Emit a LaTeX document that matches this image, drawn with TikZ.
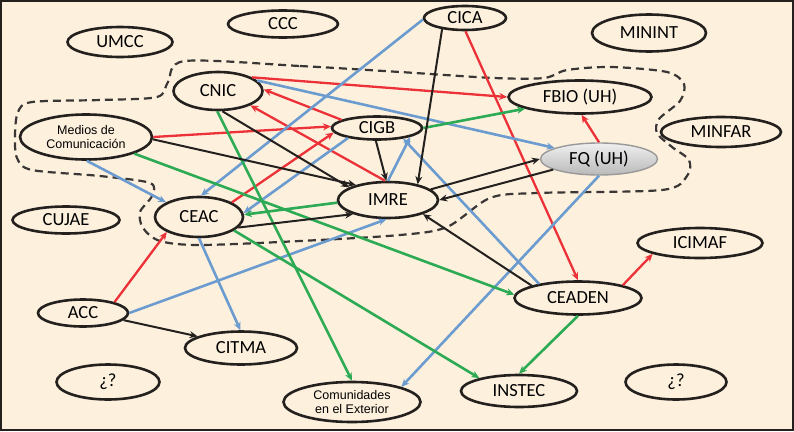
\documentclass[tikz,border=0pt]{standalone}
\usepackage{fontspec}
\setmainfont{Carlito}
\newfontfamily\arialfam{Liberation Sans}
\usetikzlibrary{shapes.geometric,arrows.meta}

\begin{document}
\begin{tikzpicture}[
            x=1pt,y=-1pt,
            >={Stealth[length=8pt,width=7pt]}
        ]
            \definecolor{bgx}{RGB}{253,241,222}
            \definecolor{rex}{RGB}{236,50,56}
            \definecolor{blx}{RGB}{108,156,207}
            \definecolor{grx}{RGB}{44,170,84}
            \definecolor{bkx}{RGB}{35,32,30}

            \tikzset{
                org/.style={draw=bkx,fill=bgx,ellipse,line width=2.6pt,inner sep=0pt,
                            font=\fontsize{18.5}{21}\selectfont},
                twoline/.style={font=\arialfam\fontsize{12.5}{14}\selectfont,align=center},
                rl/.style={->,draw=rex,line width=2.3pt},
                bl/.style={->,draw=blx,line width=2.6pt},
                gl/.style={->,draw=grx,line width=2.6pt},
                kl/.style={->,draw=bkx,line width=2pt}
            }

            \useasboundingbox (0,0) rectangle (794,431);
            \fill [bgx] (0,0) rectangle (794,431);
            \draw [bkx,line width=2pt] (1,1) rectangle (793,430);

            % dashed group
            \draw [bkx!90,line width=2.2pt,dash pattern=on 8pt off 5pt]
                plot [smooth cycle,tension=0.5] coordinates {
                    (185,61) (300,66) (400,72) (494,78) (544,78) (567,70) (611,67)
                    (667,72) (684,84) (680,101) (659,119) (657,133) (672,147)
                    (689,160) (687,176) (662,190) (537,193) (490,198) (447,227)
                    (400,235) (300,241) (200,245) (160,241) (143,228) (140,212)
                    (152,196) (150,183) (100,176) (32,170) (17,158) (15,135)
                    (18,112) (32,102) (100,100) (157,97) (168,82)
                };

            \begin{scope}[
                every node/.style={org}
            ]
                \node (umcc)   [minimum width=105pt,minimum height=30pt] at (120,42)  {UMCC};
                \node (ccc)    [minimum width=110pt,minimum height=27pt] at (283,24)  {CCC};
                \node (cica)   [minimum width=82pt, minimum height=24pt] at (465,18)  {CICA};
                \node (minint) [minimum width=114pt,minimum height=37pt] at (649,33)  {MININT};
                \node (cnic)   [minimum width=89pt, minimum height=38pt] at (218,91)  {CNIC};
                \node (medios) [minimum width=132pt,minimum height=45pt,twoline] at (86,137) {Medios de\\Comunicación};
                \node (cigb)   [minimum width=90pt, minimum height=23pt] at (377,128) {CIGB};
                \node (fbio)   [minimum width=143pt,minimum height=33pt] at (580,97)  {FBIO (UH)};
                \node (minfar) [minimum width=120pt,minimum height=30pt] at (721,132) {MINFAR};
                \node (fq)     [minimum width=117pt,minimum height=32pt,draw=gray!80,line width=1.4pt,
                                top color=gray!12,bottom color=gray!55] at (599,159) {FQ (UH)};
                \node (imre)   [minimum width=100pt,minimum height=36pt] at (388,200) {IMRE};
                \node (ceac)   [minimum width=88pt, minimum height=40pt] at (199,217) {CEAC};
                \node (cujae)  [minimum width=107pt,minimum height=27pt] at (66,220)  {CUJAE};
                \node (acc)    [minimum width=90pt, minimum height=27pt] at (83,313)  {ACC};
                \node (citma)  [minimum width=112pt,minimum height=33pt] at (241,348) {CITMA};
                \node (qleft)  [minimum width=103pt,minimum height=35pt] at (108,382) {¿?};
                \node (comun)  [minimum width=137pt,minimum height=40pt,twoline] at (352,402) {Comunidades\\en el Exterior};
                \node (instec) [minimum width=116pt,minimum height=32pt] at (519,391) {INSTEC};
                \node (ceaden) [minimum width=127pt,minimum height=33pt] at (578,298) {CEADEN};
                \node (icimaf) [minimum width=125pt,minimum height=30pt] at (700,243) {ICIMAF};
                \node (qright) [minimum width=101pt,minimum height=35pt] at (676,382) {¿?};
            \end{scope}

            % red
            \draw [rl] (cnic.22)    -- (fbio.180);
            \draw [rl] (medios.0)   -- (cigb.178);
            \draw [rl] (cigb.167)   -- (cnic.2);
            \draw [rl] (imre.99)    -- (cnic.-24);
            \draw [rl] (ceac.24)    -- (cigb.186);
            \draw [rl] (cica.-88)   -- (ceaden.90);
            \draw [rl] (fq.90)      -- (fbio.-85);
            \draw [rl] (ceaden.16)  -- (icimaf.193);
            \draw [rl] (acc.19)     -- (ceac.205);
            % blue
            \draw [bl] (cica.182)   -- (ceac.85);
            \draw [bl] (cnic.15)    -- (fq.166);
            \draw [bl] (medios.-88) -- (ceac.156);
            \draw [bl] (cigb.199)   -- (ceac.5);
            \draw [bl] (imre.90)    -- (cigb.-15);
            \draw [bl] (ceaden.160) -- (cigb.-22);
            \draw [bl] (acc.0)      -- (imre.-95);
            \draw [bl] (ceac.-90)   -- (citma.92);
            \draw [bl] (fq.-90)     -- (comun.17);
            % green
            \draw [gl] (cigb.0)     -- (fbio.192);
            \draw [gl] (cnic.-92)   -- (comun.90);
            \draw [gl] (medios.-19) -- (ceaden.177);
            \draw [gl] (imre.183)   -- (ceac.3);
            \draw [gl] (ceac.-21)   -- (instec.162);
            \draw [gl] (ceaden.-90) -- (instec.90);
            % black
            \draw [kl] (cnic.-78)   -- (imre.162);
            \draw [kl] (medios.-2)  -- (imre.155);
            \draw [kl] (cigb.-95)   -- (imre.95);
            \draw [kl] (cica.206)   -- (imre.28);
            \draw [kl] (ceac.-15)   -- (imre.202);
            \draw [kl] (imre.14)    -- (fq.180);
            \draw [kl] (fq.193)     -- (imre.0);
            \draw [kl] (ceaden.165) -- (imre.-22);
            \draw [kl] (acc.-10)    -- (citma.165);
        \end{tikzpicture}
\end{document}
